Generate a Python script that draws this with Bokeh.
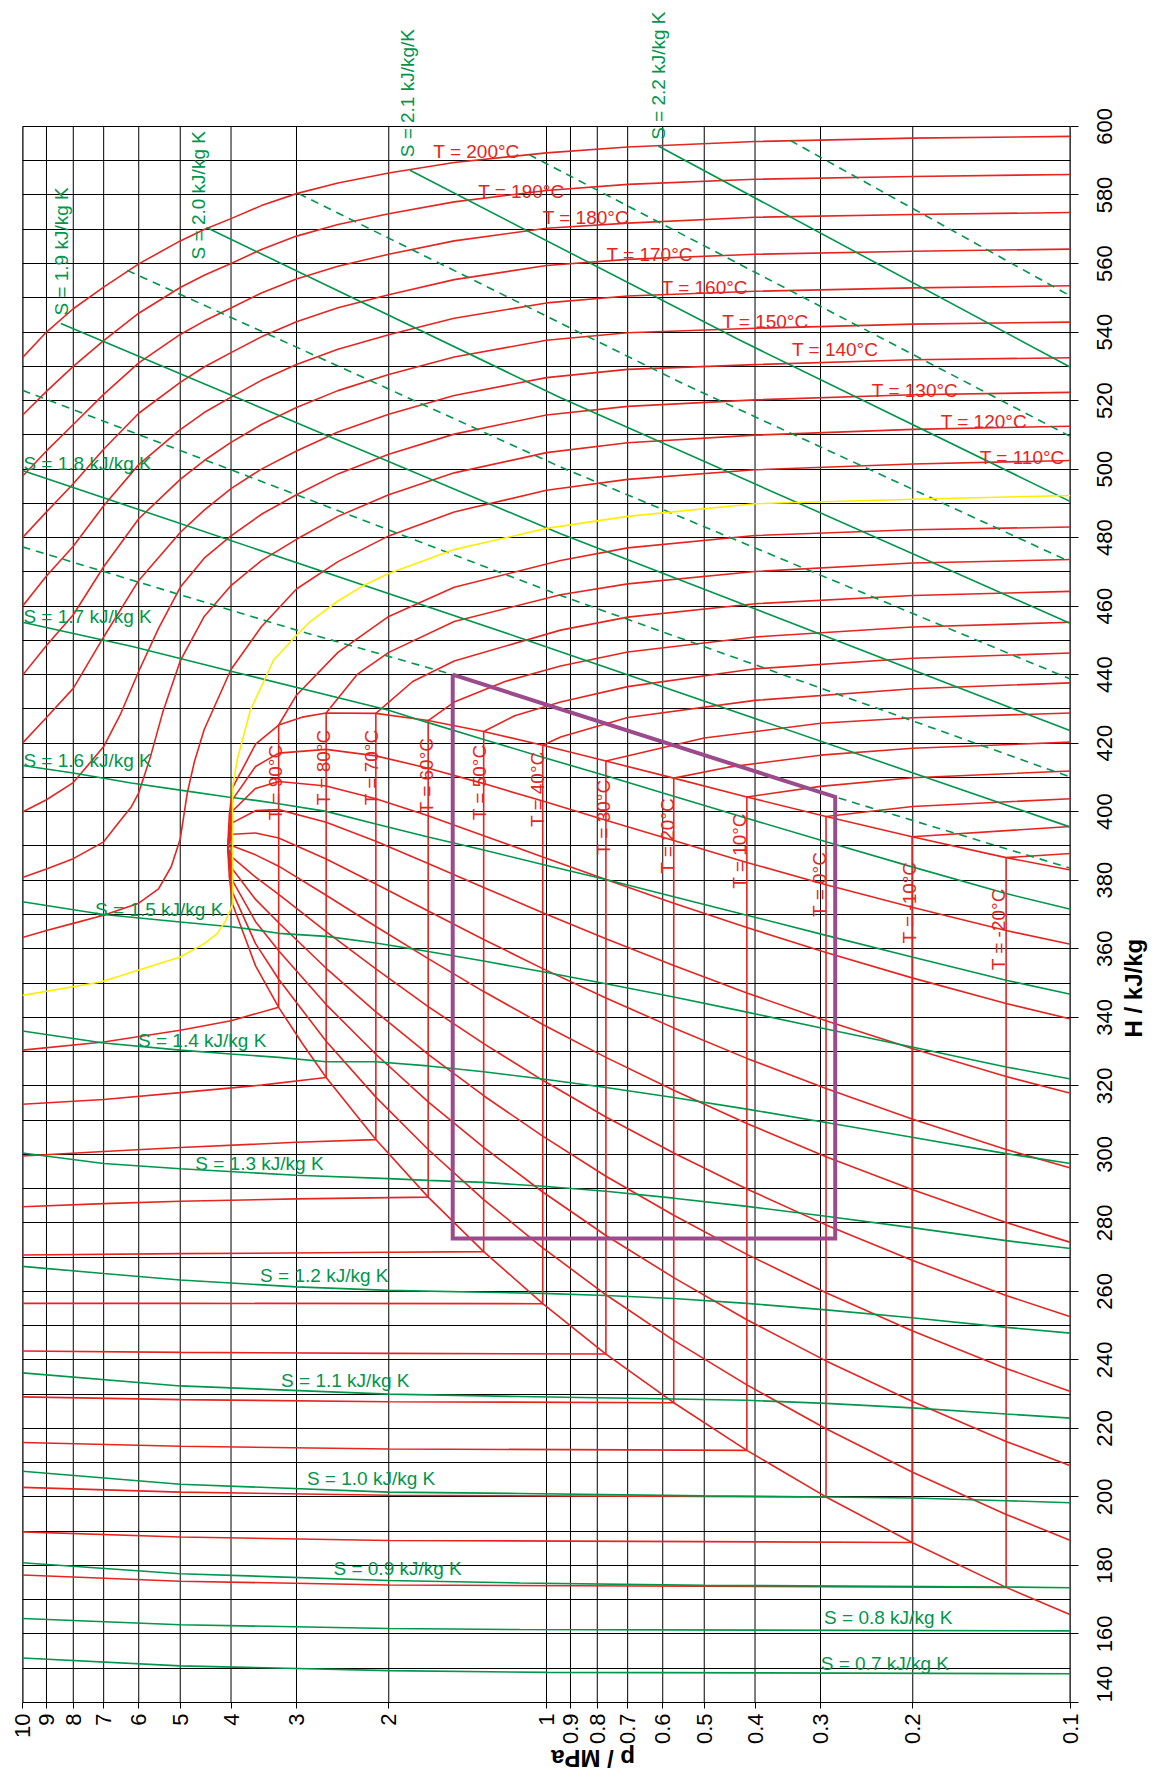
import math
from bokeh.plotting import figure
from bokeh.models import Range1d, FixedTicker, Label, LogAxis, LinearAxis
from bokeh.embed import file_html
from bokeh.resources import INLINE

# ---------------- axes / ticks ----------------
P_TICKS = [10, 9, 8, 7, 6, 5, 4, 3, 2, 1, 0.9, 0.8, 0.7, 0.6, 0.5, 0.4, 0.3, 0.2, 0.1]
P_TICK_LABELS = ["10", "9", "8", "7", "6", "5", "4", "3", "2", "1",
                 "0.9", "0.8", "0.7", "0.6", "0.5", "0.4", "0.3", "0.2", "0.1"]
H_TICKS = [140, 160, 180, 200, 220, 240, 260, 280, 300, 320, 340, 360, 380, 400,
           420, 440, 460, 480, 500, 520, 540, 560, 580, 600]
H_GRID = [140, 150, 160, 170, 180, 190, 200, 210, 220, 230, 240, 250, 260, 270, 280,
          290, 300, 310, 320, 330, 340, 350, 360, 370, 380, 390, 400, 410, 420, 430,
          440, 450, 460, 470, 480, 490, 500, 510, 520, 530, 540, 550, 560, 570, 580,
          590, 600]
H_MIN, H_MAX = 140, 600
P_MAX, P_MIN = 10, 0.1
X_TITLE = "p / MPa"
Y_TITLE = "H / kJ/kg"

# ---------------- saturation dome ----------------
SAT_P = [0.1, 0.1327, 0.2006, 0.2928, 0.4146, 0.5717, 0.7702, 1.0166, 1.3179, 1.6818,
         2.1168, 2.6332, 2.926, 3.2442, 3.591, 3.972, 4.03, 4.059]
SATL_H = [165.6, 173.6, 186.7, 200.0, 213.6, 227.5, 241.7, 256.4, 271.6, 287.5,
          304.3, 322.4, 332.4, 342.9, 355.0, 373.0, 381.0, 389.6]
SATV_H = [383.0, 386.6, 392.7, 398.6, 404.3, 409.8, 414.8, 419.4, 423.4, 426.6,
          428.7, 428.8, 427.6, 425.3, 419.7, 407.0, 399.0, 389.6]

# ---------------- vapour quality lines x = 0.1 ... 0.9 ----------------
Q_P = [0.1, 0.1327, 0.2006, 0.2928, 0.4146, 0.5717, 0.7702, 1.0166, 1.3179, 1.6818,
       2.1168, 2.6332, 3.2442, 3.591, 3.972, 4.059]
Q1_H = [187.3, 194.9, 207.3, 219.9, 232.7, 245.7, 259.0, 272.7, 286.8, 301.4, 316.7, 333.0, 351.1, 361.5, 376.4, 389.6]
Q2_H = [209.1, 216.2, 227.9, 239.7, 251.7, 264.0, 276.3, 289.0, 302.0, 315.3, 329.2, 343.7, 359.4, 367.9, 379.8, 389.6]
Q3_H = [230.8, 237.5, 248.5, 259.6, 270.8, 282.2, 293.6, 305.3, 317.1, 329.2, 341.6, 354.3, 367.6, 374.4, 383.2, 389.6]
Q4_H = [252.6, 258.8, 269.1, 279.4, 289.9, 300.4, 310.9, 321.6, 332.3, 343.1, 354.1, 365.0, 375.9, 380.9, 386.6, 389.6]
Q5_H = [274.3, 280.1, 289.7, 299.3, 309.0, 318.7, 328.3, 337.9, 347.5, 357.1, 366.5, 375.6, 384.1, 387.4, 390.0, 389.6]
Q6_H = [296.0, 301.4, 310.3, 319.2, 328.0, 336.9, 345.6, 354.2, 362.7, 371.0, 378.9, 386.2, 392.3, 393.8, 393.4, 389.6]
Q7_H = [317.8, 322.7, 330.9, 339.0, 347.1, 355.1, 362.9, 370.5, 377.9, 384.9, 391.4, 396.9, 400.6, 400.3, 396.8, 389.6]
Q8_H = [339.5, 344.0, 351.5, 358.9, 366.2, 373.3, 380.2, 386.8, 393.0, 398.8, 403.8, 407.5, 408.8, 406.8, 400.2, 389.6]
Q9_H = [361.3, 365.3, 372.1, 378.7, 385.2, 391.6, 397.5, 403.1, 408.2, 412.7, 416.3, 418.2, 417.1, 413.2, 403.6, 389.6]

# ---------------- isotherms (red) ----------------
SC_P = [10, 9, 8, 7, 6, 5, 4.5, 4, 3.5, 3, 2.5, 2, 1.5, 1, 0.7, 0.4, 0.2, 0.1]
T200_H = [532.5, 540.0, 546.8, 553.1, 559.9, 566.6, 569.9, 573.1, 576.9, 580.4, 583.5, 586.4, 589.5, 592.3, 594.0, 595.6, 596.6, 597.1]
T190_H = [515.7, 522.7, 530.0, 537.5, 545.5, 553.0, 556.6, 560.0, 564.1, 568.0, 571.4, 574.5, 578.0, 581.3, 583.1, 584.6, 585.4, 586.0]
T180_H = [497.9, 505.3, 513.0, 521.8, 531.0, 539.3, 543.2, 547.0, 551.4, 555.5, 559.2, 562.7, 566.6, 570.3, 571.8, 573.5, 574.3, 574.9]
T170_H = [480.0, 487.5, 495.7, 505.8, 516.3, 525.3, 529.8, 534.0, 538.6, 543.0, 547.1, 550.9, 555.3, 559.4, 561.2, 562.7, 563.6, 564.2]
T160_H = [460.0, 468.8, 477.5, 489.3, 501.3, 511.5, 516.5, 521.0, 525.9, 530.5, 535.0, 539.2, 544.0, 548.5, 550.5, 551.9, 552.9, 553.5]
T150_H = [439.8, 448.5, 457.5, 471.5, 485.5, 497.0, 502.5, 507.8, 513.0, 518.0, 522.9, 527.6, 532.7, 537.6, 539.8, 541.1, 542.3, 542.9]
T140_H = [420.0, 427.5, 436.0, 451.0, 467.5, 481.5, 488.0, 494.3, 500.0, 505.3, 510.8, 516.0, 521.5, 526.7, 529.1, 530.5, 531.9, 532.5]
T130_P = [10, 9, 8, 7, 6.5, 6, 5.5, 5, 4.5, 4, 3.5, 3, 2.5, 2, 1.5, 1, 0.7, 0.4, 0.2, 0.1]
T130_H = [399.9, 403.5, 408.5, 419.0, 428.5, 441.0, 453.5, 465.5, 474.0, 480.5, 486.8, 492.5, 498.6, 504.3, 510.2, 515.8, 518.3, 520.2, 521.7, 522.4]
T120_P = [10, 9, 8, 7, 6.5, 6.2, 6, 5.7, 5.4, 5, 4.5, 4, 3.5, 3, 2.5, 2, 1.5, 1, 0.7, 0.4, 0.2, 0.1]
T120_H = [380.8, 383.3, 386.3, 391.2, 397.5, 401.4, 405.5, 416.0, 429.0, 444.0, 457.0, 466.0, 473.3, 479.5, 486.2, 492.5, 498.9, 504.8, 507.7, 509.9, 511.6, 512.5]
T110_P = [10, 9, 8, 7, 6, 5.5, 5.2, 5, 4.85, 4.7, 4.5, 4, 3.5, 3, 2.5, 2, 1.5, 1, 0.7, 0.4, 0.2, 0.1]
T110_H = [363.3, 365.3, 367.4, 369.8, 373.3, 377.5, 384.0, 392.0, 405.3, 414.5, 424.0, 441.5, 454.0, 465.0, 473.0, 480.5, 487.5, 493.8, 497.0, 499.8, 501.5, 502.5]
# T = 100 C (yellow)
T100_P = [10, 7.09, 5, 4.5, 4.25, 4.1, 3.972, 3.972, 3.895, 3.674, 3.318, 3.0, 2.824, 2.5, 2.236, 2.0, 1.5, 1.0, 0.7, 0.4, 0.2, 0.1]
T100_H = [346.4, 350.3, 357.6, 361.5, 364.4, 368.0, 373.0, 407.0, 415.0, 429.6, 444.2, 451.5, 455.5, 461.5, 466.0, 469.5, 476.5, 482.7, 486.2, 489.9, 491.2, 492.3]
# sub-critical isotherms: liquid branch, two-phase step, vapour branch
T90_P = [10, 7, 5, 4, 3.2442, 3.2442, 3.0, 2.5, 2.0, 1.5, 0.94, 0.7, 0.4, 0.2, 0.1]
T90_H = [330.4, 332.8, 336.2, 339.0, 342.9, 425.3, 434.0, 446.5, 457.0, 465.5, 473.3, 477.0, 480.6, 482.3, 483.1]
T80_P = [10, 7, 5, 3.5, 2.6332, 2.6332, 2.3, 2.0, 1.5, 0.94, 0.7, 0.4, 0.2, 0.1]
T80_H = [314.6, 316.0, 318.0, 320.2, 322.4, 428.8, 440.0, 446.5, 455.5, 463.3, 466.5, 470.1, 472.6, 473.6]
T70_P = [10, 7, 5, 3, 2.1168, 2.1168, 1.8, 1.5, 0.94, 0.7, 0.4, 0.2, 0.1]
T70_H = [299.5, 300.8, 302.0, 303.5, 304.3, 428.7, 438.0, 444.0, 453.0, 456.8, 460.7, 463.1, 464.3]
T60_P = [10, 7, 5, 3, 1.6818, 1.6818, 1.5, 1.2, 0.94, 0.7, 0.4, 0.2, 0.1]
T60_H = [284.7, 285.6, 286.3, 287.0, 287.5, 426.6, 432.0, 438.0, 442.5, 446.6, 451.0, 453.9, 455.3]
T50_P = [10, 5, 2, 1.3179, 1.3179, 1.15, 0.94, 0.7, 0.4, 0.2, 0.1]
T50_H = [270.6, 271.0, 271.4, 271.6, 423.4, 428.0, 432.0, 436.5, 441.7, 444.8, 446.3]
T40_P = [10, 5, 1.0166, 1.0166, 0.94, 0.7, 0.4, 0.2, 0.1]
T40_H = [256.5, 256.5, 256.4, 419.4, 421.8, 427.5, 432.5, 435.9, 437.6]
T30_P = [10, 5, 2, 0.7702, 0.7702, 0.5, 0.3, 0.2, 0.1]
T30_H = [242.6, 242.2, 241.9, 241.7, 414.8, 421.5, 425.8, 427.4, 428.8]
T20_P = [10, 5, 2, 0.5717, 0.5717, 0.45, 0.3, 0.2, 0.1]
T20_H = [229.2, 228.4, 227.8, 227.5, 409.8, 413.0, 416.5, 418.5, 420.3]
T10_P = [10, 5, 2, 0.4146, 0.4146, 0.3, 0.2, 0.1]
T10_H = [215.9, 214.8, 214.0, 213.6, 404.3, 407.4, 409.9, 411.9]
T0_P = [10, 5, 2, 0.2928, 0.2928, 0.2, 0.1]
T0_H = [202.8, 201.4, 200.5, 200.0, 398.6, 401.5, 403.8]
TM10_P = [10, 5, 2, 0.2006, 0.2006, 0.1]
TM10_H = [189.8, 188.3, 187.3, 186.7, 392.7, 395.7]
TM20_P = [10, 5, 2, 0.1327, 0.1327, 0.1]
TM20_H = [177.2, 175.4, 174.3, 173.6, 386.6, 387.8]

# ---------------- isentropes (green) ----------------
S07_P = [10, 5, 2, 1, 0.1]
S07_H = [153.0, 150.7, 149.3, 148.8, 148.4]
S08_P = [10, 5, 2, 1.125, 0.1]
S08_H = [164.5, 162.7, 161.6, 161.3, 160.9]
S09_P = [10, 5, 2, 1.125, 0.5, 0.1327, 0.1]
S09_H = [180.8, 177.6, 175.6, 174.9, 174.2, 173.7, 173.5]
S10_P = [10, 5, 2, 1.125, 0.5, 0.2928, 0.2006, 0.1327, 0.1]
S10_H = [207.5, 203.7, 201.4, 201.0, 200.3, 200.0, 199.7, 198.9, 198.3]
S11_P = [10, 5, 2, 1.125, 0.5717, 0.4146, 0.2928, 0.2006, 0.1327, 0.1]
S11_H = [236.2, 232.4, 230.0, 229.3, 228.6, 228.2, 227.3, 226.0, 224.2, 223.0]
S12_P = [10, 7, 5, 3, 2, 1.0166, 0.7702, 0.5717, 0.4146, 0.2928, 0.2006, 0.1327, 0.1]
S12_H = [267.3, 265.2, 263.3, 261.3, 260.3, 259.4, 258.8, 257.9, 256.5, 254.6, 252.3, 249.5, 247.8]
S13_P = [10, 7, 5, 3, 2, 1.6818, 1.3179, 1.0166, 0.7702, 0.5717, 0.4146, 0.2928, 0.2006, 0.1327, 0.1]
S13_H = [300.4, 297.3, 295.8, 293.9, 292.9, 292.4, 291.8, 290.7, 289.2, 287.2, 284.8, 281.9, 278.6, 274.8, 272.5]
S14_P = [10, 7, 5, 4, 3.2442, 2.6332, 2.1168, 1.6818, 1.3179, 1.0166, 0.7702, 0.5717, 0.4146, 0.2928, 0.2006, 0.1327, 0.1]
S14_H = [336.0, 332.5, 330.4, 329.3, 328.3, 327.0, 327.0, 325.8, 324.1, 322.0, 319.5, 316.6, 313.2, 309.3, 305.0, 300.2, 297.3]
S15_P = [10, 7, 5, 4, 3.591, 3.2442, 2.6332, 2.1168, 1.6818, 1.3179, 1.0166, 0.7702, 0.5717, 0.4146, 0.2928, 0.2006, 0.1327, 0.1]
S15_H = [373.7, 370.0, 367.8, 366.4, 365.5, 364.5, 363.6, 361.7, 359.2, 356.4, 353.3, 349.8, 345.9, 341.5, 336.6, 331.3, 325.5, 322.0]
S16_P = [10, 8, 6.2, 5, 4.059, 3.591, 3.2442, 2.6332, 2.1168, 1.6818, 1.3179, 1.0166, 0.7702, 0.5717, 0.4146, 0.2928, 0.2006, 0.1327, 0.1]
S16_H = [413.5, 411.3, 408.4, 406.3, 404.3, 403.3, 402.3, 400.1, 396.4, 392.6, 388.8, 384.6, 380.2, 375.2, 369.8, 363.9, 357.6, 350.8, 346.7]
S17_P = [10, 6.2, 4, 2, 1.76, 1.6818, 1.3179, 1.0166, 0.7702, 0.5717, 0.4146, 0.2928, 0.2006, 0.1327, 0.1]
S17_H = [455.3, 448.3, 441.0, 429.6, 426.9, 426.0, 421.1, 415.9, 410.5, 404.5, 398.1, 391.2, 383.9, 376.1, 371.5]
S18_P = [10, 1.125, 0.1]
S18_H = [499.6, 450.8, 395.5]
S19_P = [8.45, 0.94, 0.1]
S19_H = [542.5, 481.1, 423.6]
S20_P = [4.456, 0.94, 0.1]
S20_H = [570.5, 520.8, 454.9]
S21_P = [1.822, 0.43, 0.1]
S21_H = [587.2, 537.8, 490.5]
S22_P = [0.612, 0.1]
S22_H = [594.3, 529.7]
# dashed half steps
S175_P = [10, 3, 1.51, 0.2812, 0.1]
S175_H = [477.3, 453.0, 440.0, 404.3, 383.5]
S185_P = [10, 0.94, 0.1]
S185_H = [523.0, 463.1, 410.1]
S195_P = [6.31, 0.94, 0.1]
S195_H = [558.0, 500.6, 438.7]
S205_P = [2.972, 0.55, 0.1]
S205_H = [580.4, 525.0, 472.9]
S215_P = [1.08, 0.1]
S215_H = [591.8, 509.5]
S225_P = [0.3425, 0.1]
S225_H = [595.9, 550.5]

# ---------------- refrigeration cycle (purple) ----------------
CYC_P = [1.51, 0.2812, 0.2812, 1.51, 1.51]
CYC_H = [440.0, 404.3, 275.4, 275.4, 440.0]

# ---------------- labels ----------------
TH_TEXT = ["T = 200°C", "T = 190°C", "T = 180°C", "T = 170°C", "T = 160°C",
           "T = 150°C", "T = 140°C", "T = 130°C", "T = 120°C", "T = 110°C"]
TH_P = [1.644, 1.35, 1.017, 0.768, 0.603, 0.462, 0.340, 0.2394, 0.1769, 0.149]
TH_H = [592.7, 581.0, 573.4, 562.6, 553.1, 543.1, 534.8, 523.0, 513.9, 503.5]
TV_TEXT = ["T = 90°C", "T = 80°C", "T = 70°C", "T = 60°C", "T = 50°C", "T = 40°C",
           "T = 30°C", "T = 20°C", "T = 10°C", "T = 0°C", "T = -10°C", "T = -20°C"]
TV_P = [3.292, 2.665, 2.154, 1.693, 1.340, 1.039, 0.780, 0.5867, 0.4283, 0.3016, 0.2032, 0.1370]
TV_H = [397.5, 401.9, 401.9, 399.5, 397.5, 395.5, 387.3, 381.9, 377.5, 369.3, 361.5, 353.7]
SH_TEXT = ["S = 0.7 kJ/kg K", "S = 0.8 kJ/kg K", "S = 0.9 kJ/kg K", "S = 1.0 kJ/kg K",
           "S = 1.1 kJ/kg K", "S = 1.2 kJ/kg K", "S = 1.3 kJ/kg K", "S = 1.4 kJ/kg K",
           "S = 1.5 kJ/kg K", "S = 1.6 kJ/kg K", "S = 1.7 kJ/kg K", "S = 1.8 kJ/kg K"]
SH_P = [0.2997, 0.2953, 2.55, 2.866, 3.21, 3.52, 4.68, 6.02, 7.27, 9.96, 9.96, 9.96]
SH_H = [151.5, 164.8, 179.0, 205.3, 234.0, 264.6, 297.2, 333.2, 371.6, 414.9, 456.9, 501.5]
SV_TEXT = ["S = 1.9 kJ/kg K", "S = 2.0 kJ/kg K", "S = 2.1 kJ/kg/K", "S = 2.2 kJ/kg K"]
SV_P = [8.42, 4.61, 1.838, 0.611]
SV_H = [544.8, 561.2, 591.0, 596.1]

RED = "#e42520"
GREEN = "#00964b"
YELLOW = "#ffee00"
PURPLE = "#9b4b8c"
FONT = "Liberation Sans"

# ---------------- layout constants ----------------
# the frame is extended above H = 600 so that the rotated S labels at the top fit;
# the chart area itself (grid, border) stops at H = 600
Y_TOP = 635.6
# Bokeh starts a rotated tick label at its tick; these shifts centre the texts
Y_LABEL_SHIFT = 5.36        # half the length of a 3-digit H label, in kJ/kg
X_TITLE_START = 0.98        # pressure where the upside-down x title starts
Y_TITLE_START = 334.1       # enthalpy where the y title starts

p = figure(width=1167, height=1791, x_axis_type="log",
           x_range=Range1d(P_MAX, P_MIN), y_range=Range1d(H_MIN, Y_TOP),
           y_axis_location="right", output_backend="svg", toolbar_location=None,
           min_border_left=22, min_border_right=97, min_border_top=4,
           min_border_bottom=89)
p.background_fill_color = "white"
p.border_fill_color = "white"
p.outline_line_color = None

p.xgrid.grid_line_color = None
p.ygrid.ticker = FixedTicker(ticks=H_GRID)
p.ygrid.grid_line_color = "black"
p.ygrid.grid_line_alpha = 1.0
p.ygrid.grid_line_width = 1

# vertical grid lines (one per pressure tick) from H = 140 to 600
p.multi_line(xs=[[t, t] for t in P_TICKS], ys=[[H_MIN, H_MAX] for _ in P_TICKS],
             line_color="black", line_width=1)
# left / right border of the chart area
p.multi_line(xs=[[P_MAX, P_MAX], [P_MIN, P_MIN]], ys=[[H_MIN, H_MAX], [H_MIN, H_MAX]],
             line_color="black", line_width=2)

xa = p.xaxis[0]
xa.ticker = FixedTicker(ticks=P_TICKS)
xa.major_label_overrides = {t: s for t, s in zip(P_TICKS, P_TICK_LABELS)}
xa.major_label_orientation = math.pi / 2
xa.major_tick_out = 6
xa.major_tick_in = 0
xa.minor_tick_line_color = None
xa.major_label_standoff = 5
xa.major_label_text_font = FONT
xa.major_label_text_font_size = "22px"
xa.major_label_text_color = "black"
xa.axis_line_color = "black"

# right axis: tick marks only (its labels come from the next axis)
ya = p.yaxis[0]
ya.ticker = FixedTicker(ticks=H_TICKS)
ya.major_tick_out = 8
ya.major_tick_in = 0
ya.minor_tick_line_color = None
ya.major_label_text_color = None
ya.axis_line_color = None

# label positions: each rotated label starts half its length below its tick
# (the lowest one cannot start below the range, so it starts at its tick)
label_ticks = [H_TICKS[0]] + [h - Y_LABEL_SHIFT for h in H_TICKS[1:]]
yl = LinearAxis(ticker=FixedTicker(ticks=label_ticks),
                major_label_overrides={t: str(h) for t, h in zip(label_ticks, H_TICKS)},
                major_label_orientation=math.pi / 2, major_label_standoff=26,
                major_tick_in=0, major_tick_out=0, major_tick_line_color=None,
                minor_tick_line_color=None, axis_line_color=None,
                major_label_text_font=FONT, major_label_text_font_size="22px",
                major_label_text_color="black")
p.add_layout(yl, "right")

# axis titles, drawn as the single tick label of an otherwise invisible axis
yt = LinearAxis(ticker=FixedTicker(ticks=[Y_TITLE_START]),
                major_label_overrides={Y_TITLE_START: Y_TITLE},
                major_label_orientation=math.pi / 2, major_label_standoff=11,
                major_tick_in=0, major_tick_out=0, major_tick_line_color=None,
                minor_tick_line_color=None, axis_line_color=None,
                major_label_text_font=FONT, major_label_text_font_size="24px",
                major_label_text_font_style="bold", major_label_text_color="black")
p.add_layout(yt, "right")
xt = LogAxis(ticker=FixedTicker(ticks=[X_TITLE_START]),
             major_label_overrides={X_TITLE_START: X_TITLE},
             major_label_orientation=math.pi, major_label_standoff=11,
             major_tick_in=0, major_tick_out=0, major_tick_line_color=None,
             minor_tick_line_color=None, axis_line_color=None,
             major_label_text_font=FONT, major_label_text_font_size="24px",
             major_label_text_font_style="bold", major_label_text_color="black")
p.add_layout(xt, "below")

LW = 1.6
# saturation dome and quality lines
p.line(SAT_P, SATL_H, line_color=RED, line_width=LW)
p.line(SAT_P, SATV_H, line_color=RED, line_width=LW)
for qh in (Q1_H, Q2_H, Q3_H, Q4_H, Q5_H, Q6_H, Q7_H, Q8_H, Q9_H):
    p.line(Q_P, qh, line_color=RED, line_width=LW)

# isotherms
for th in (T200_H, T190_H, T180_H, T170_H, T160_H, T150_H, T140_H):
    p.line(SC_P, th, line_color=RED, line_width=LW)
for tp, th in ((T130_P, T130_H), (T120_P, T120_H), (T110_P, T110_H),
               (T90_P, T90_H), (T80_P, T80_H), (T70_P, T70_H), (T60_P, T60_H),
               (T50_P, T50_H), (T40_P, T40_H), (T30_P, T30_H), (T20_P, T20_H),
               (T10_P, T10_H), (T0_P, T0_H), (TM10_P, TM10_H), (TM20_P, TM20_H)):
    p.line(tp, th, line_color=RED, line_width=LW)

# isentropes
for sp, sh in ((S07_P, S07_H), (S08_P, S08_H), (S09_P, S09_H), (S10_P, S10_H),
               (S11_P, S11_H), (S12_P, S12_H), (S13_P, S13_H), (S14_P, S14_H),
               (S15_P, S15_H), (S16_P, S16_H), (S17_P, S17_H), (S18_P, S18_H),
               (S19_P, S19_H), (S20_P, S20_H), (S21_P, S21_H), (S22_P, S22_H)):
    p.line(sp, sh, line_color=GREEN, line_width=LW)
for sp, sh in ((S175_P, S175_H), (S185_P, S185_H), (S195_P, S195_H),
               (S205_P, S205_H), (S215_P, S215_H), (S225_P, S225_H)):
    p.line(sp, sh, line_color=GREEN, line_width=LW, line_dash="8 6")

# T = 100 C isotherm in yellow
p.line(T100_P, T100_H, line_color=YELLOW, line_width=LW)

# cycle
p.line(CYC_P, CYC_H, line_color=PURPLE, line_width=4, line_join="miter")


def add_label(x, y, txt, color, angle=0.0, size="19px"):
    p.add_layout(Label(x=x, y=y, text=txt, text_color=color, angle=angle,
                       angle_units="rad", text_font=FONT, text_font_size=size,
                       text_align="left", text_baseline="alphabetic"))


for t, x, y in zip(TH_TEXT, TH_P, TH_H):
    add_label(x, y, t, RED)
for t, x, y in zip(TV_TEXT, TV_P, TV_H):
    add_label(x, y, t, RED, angle=math.pi / 2)
for t, x, y in zip(SH_TEXT, SH_P, SH_H):
    add_label(x, y, t, GREEN)
for t, x, y in zip(SV_TEXT, SV_P, SV_H):
    add_label(x, y, t, GREEN, angle=math.pi / 2)

open("out.html", "w").write(file_html(p, INLINE))
